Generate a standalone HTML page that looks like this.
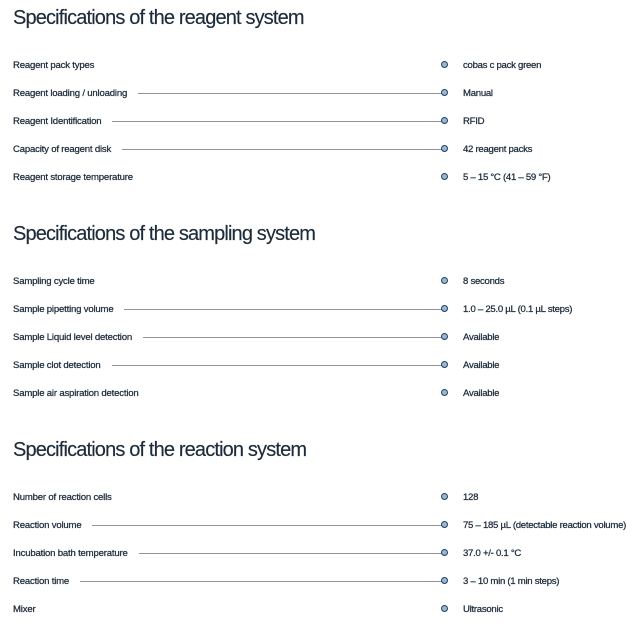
<!DOCTYPE html>
<html><head><meta charset="utf-8"><style>
body{margin:0;width:632px;height:633px;background:#fff;font-family:"Liberation Sans",Arial,sans-serif;color:#1c2b3a;position:relative;overflow:hidden}
h2{position:absolute;left:13px;margin:0;font-weight:normal;font-size:20px;letter-spacing:-0.85px;white-space:nowrap;line-height:20px;-webkit-text-stroke:0.15px #1c2b3a}
.row{position:absolute;left:13px;width:432px;height:12px;display:flex;align-items:center;font-size:9.6px;letter-spacing:-0.2px;white-space:nowrap;-webkit-text-stroke:0.25px #1c2b3a}
.line{flex:1;height:1px;background:#8d949b;margin-left:11px;-webkit-text-stroke:0}
.dot{position:absolute;left:441px;width:5px;height:5px;border:1.5px solid #2b3f55;border-radius:50%;background:#8fb8dc}
.val{position:absolute;left:463px;font-size:9.6px;letter-spacing:-0.28px;white-space:nowrap;line-height:12px;margin-top:1px;-webkit-text-stroke:0.25px #1c2b3a}
</style></head><body>
<h2 style="top:8px">Specifications of the reagent system</h2>
<h2 style="top:224px">Specifications of the sampling system</h2>
<h2 style="top:440px">Specifications of the reaction system</h2>

<div class="row" style="top:59px"><span>Reagent pack types</span></div><div class="dot" style="top:61px"></div><div class="val" style="top:59px">cobas c pack green</div>
<div class="row" style="top:87px"><span>Reagent loading / unloading</span><div class="line"></div></div><div class="dot" style="top:89px"></div><div class="val" style="top:87px">Manual</div>
<div class="row" style="top:115px"><span>Reagent Identification</span><div class="line"></div></div><div class="dot" style="top:117px"></div><div class="val" style="top:115px">RFID</div>
<div class="row" style="top:143px"><span>Capacity of reagent disk</span><div class="line"></div></div><div class="dot" style="top:145px"></div><div class="val" style="top:143px">42 reagent packs</div>
<div class="row" style="top:171px"><span>Reagent storage temperature</span></div><div class="dot" style="top:173px"></div><div class="val" style="top:171px">5 – 15 °C (41 – 59 °F)</div>

<div class="row" style="top:275px"><span>Sampling cycle time</span></div><div class="dot" style="top:277px"></div><div class="val" style="top:275px">8 seconds</div>
<div class="row" style="top:303px"><span>Sample pipetting volume</span><div class="line"></div></div><div class="dot" style="top:305px"></div><div class="val" style="top:303px">1.0 – 25.0 µL (0.1 µL steps)</div>
<div class="row" style="top:331px"><span>Sample Liquid level detection</span><div class="line"></div></div><div class="dot" style="top:333px"></div><div class="val" style="top:331px">Available</div>
<div class="row" style="top:359px"><span>Sample clot detection</span><div class="line"></div></div><div class="dot" style="top:361px"></div><div class="val" style="top:359px">Available</div>
<div class="row" style="top:387px"><span>Sample air aspiration detection</span></div><div class="dot" style="top:389px"></div><div class="val" style="top:387px">Available</div>

<div class="row" style="top:491px"><span>Number of reaction cells</span></div><div class="dot" style="top:493px"></div><div class="val" style="top:491px">128</div>
<div class="row" style="top:519px"><span>Reaction volume</span><div class="line"></div></div><div class="dot" style="top:521px"></div><div class="val" style="top:519px">75 – 185 µL (detectable reaction volume)</div>
<div class="row" style="top:547px"><span>Incubation bath temperature</span><div class="line"></div></div><div class="dot" style="top:549px"></div><div class="val" style="top:547px">37.0 +/- 0.1 °C</div>
<div class="row" style="top:575px"><span>Reaction time</span><div class="line"></div></div><div class="dot" style="top:577px"></div><div class="val" style="top:575px">3 – 10 min (1 min steps)</div>
<div class="row" style="top:603px"><span>Mixer</span></div><div class="dot" style="top:605px"></div><div class="val" style="top:603px">Ultrasonic</div>
</body></html>
